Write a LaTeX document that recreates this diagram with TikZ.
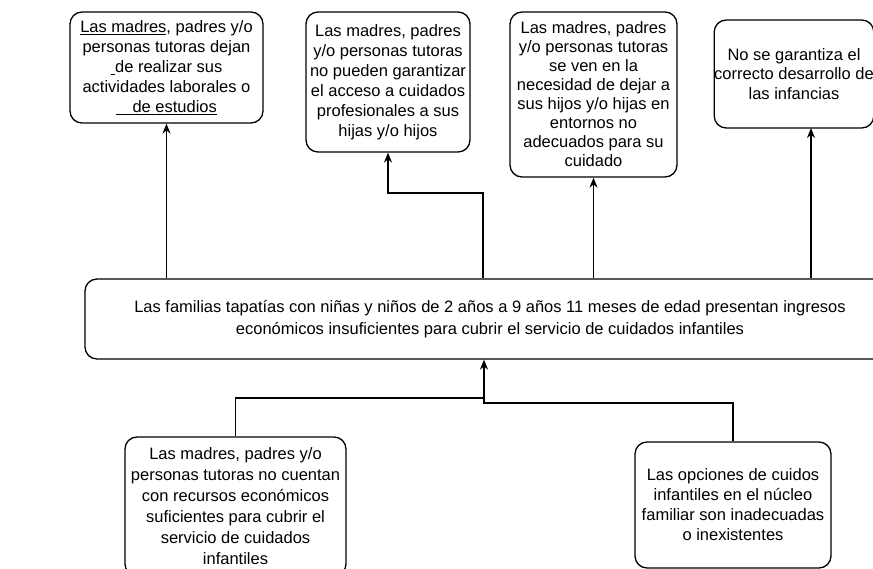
\documentclass[tikz,border=0pt]{standalone}
\usepackage{fontspec}
\setmainfont{Liberation Sans}
\usetikzlibrary{arrows.meta}

\begin{document}
\begin{tikzpicture}[x=1pt,y=-1pt,
  caja/.style={draw,rounded corners=12pt,line width=1.3pt,align=center,inner sep=0pt,
    font=\fontsize{16.5}{20}\selectfont},
  flecha/.style={line width=1.3pt,-{Stealth[length=10pt,width=8pt]}}]
\useasboundingbox (0,0) rectangle (873,569);
% Effects
\node[caja,minimum width=193pt,minimum height=111pt] (efuno) at (166.5,67.5)
  {\underline{Las madres}, padres y/o\\ personas tutoras dejan\\ \underline{\ }de realizar sus\\ actividades laborales o\\ \underline{\quad de estudios}};
\node[caja,minimum width=164pt,minimum height=140pt] (efdos) at (388,82)
  {Las madres, padres\\ y/o personas tutoras\\ no pueden garantizar\\ el acceso a cuidados\\ profesionales a sus\\ hijas y/o hijos};
\node[caja,minimum width=167pt,minimum height=165pt,font=\fontsize{16.5}{19}\selectfont] (eftres) at (593.5,94.5)
  {Las madres, padres\\ y/o personas tutoras\\ se ven en la\\ necesidad de dejar a\\ sus hijos y/o hijas en\\ entornos no\\ adecuados para su\\ cuidado};
\node[caja,minimum width=158pt,minimum height=108pt,font=\fontsize{16.5}{19.5}\selectfont] (efcuatro) at (794,74)
  {No se garantiza el\\ correcto desarrollo de\\ las infancias};
% Central problem
\node[caja,minimum width=810pt,minimum height=80pt,font=\fontsize{16.5}{22}\selectfont] (problema) at (490,319)
  {Las familias tapatías con niñas y niños de 2 años a 9 años 11 meses de edad presentan ingresos\\ económicos insuficientes para cubrir el servicio de cuidados infantiles};
% Causes
\node[caja,minimum width=221pt,minimum height=139pt,font=\fontsize{16.5}{21}\selectfont] (causaizq) at (235.5,506.5)
  {Las madres, padres y/o\\ personas tutoras no cuentan\\ con recursos económicos\\ suficientes para cubrir el\\ servicio de cuidados\\ infantiles};
\node[caja,minimum width=196pt,minimum height=126pt] (causader) at (733,505)
  {Las opciones de cuidos\\ infantiles en el núcleo\\ familiar son inadecuadas\\ o inexistentes};
% Arrows up to the effects
\coordinate (codo) at (483,193);
\coordinate (pie) at (811,128);
\draw[flecha] (problema.north -| efuno.south) -- (efuno.south);
\draw[flecha] (problema.north -| codo) |- (efdos.south |- codo) -- (efdos.south);
\draw[flecha] (problema.north -| eftres.south) -- (eftres.south);
\draw[flecha] (problema.north -| pie) -- (pie);
% Arrows up from the causes
\coordinate (union) at (484,398);
\coordinate (nudo) at (484,403);
\draw[line width=1.3pt] (causader.north) |- (nudo) -- (union);
\draw[flecha] (causaizq.north) |- (union) -- (problema.south -| union);
\end{tikzpicture}
\end{document}
